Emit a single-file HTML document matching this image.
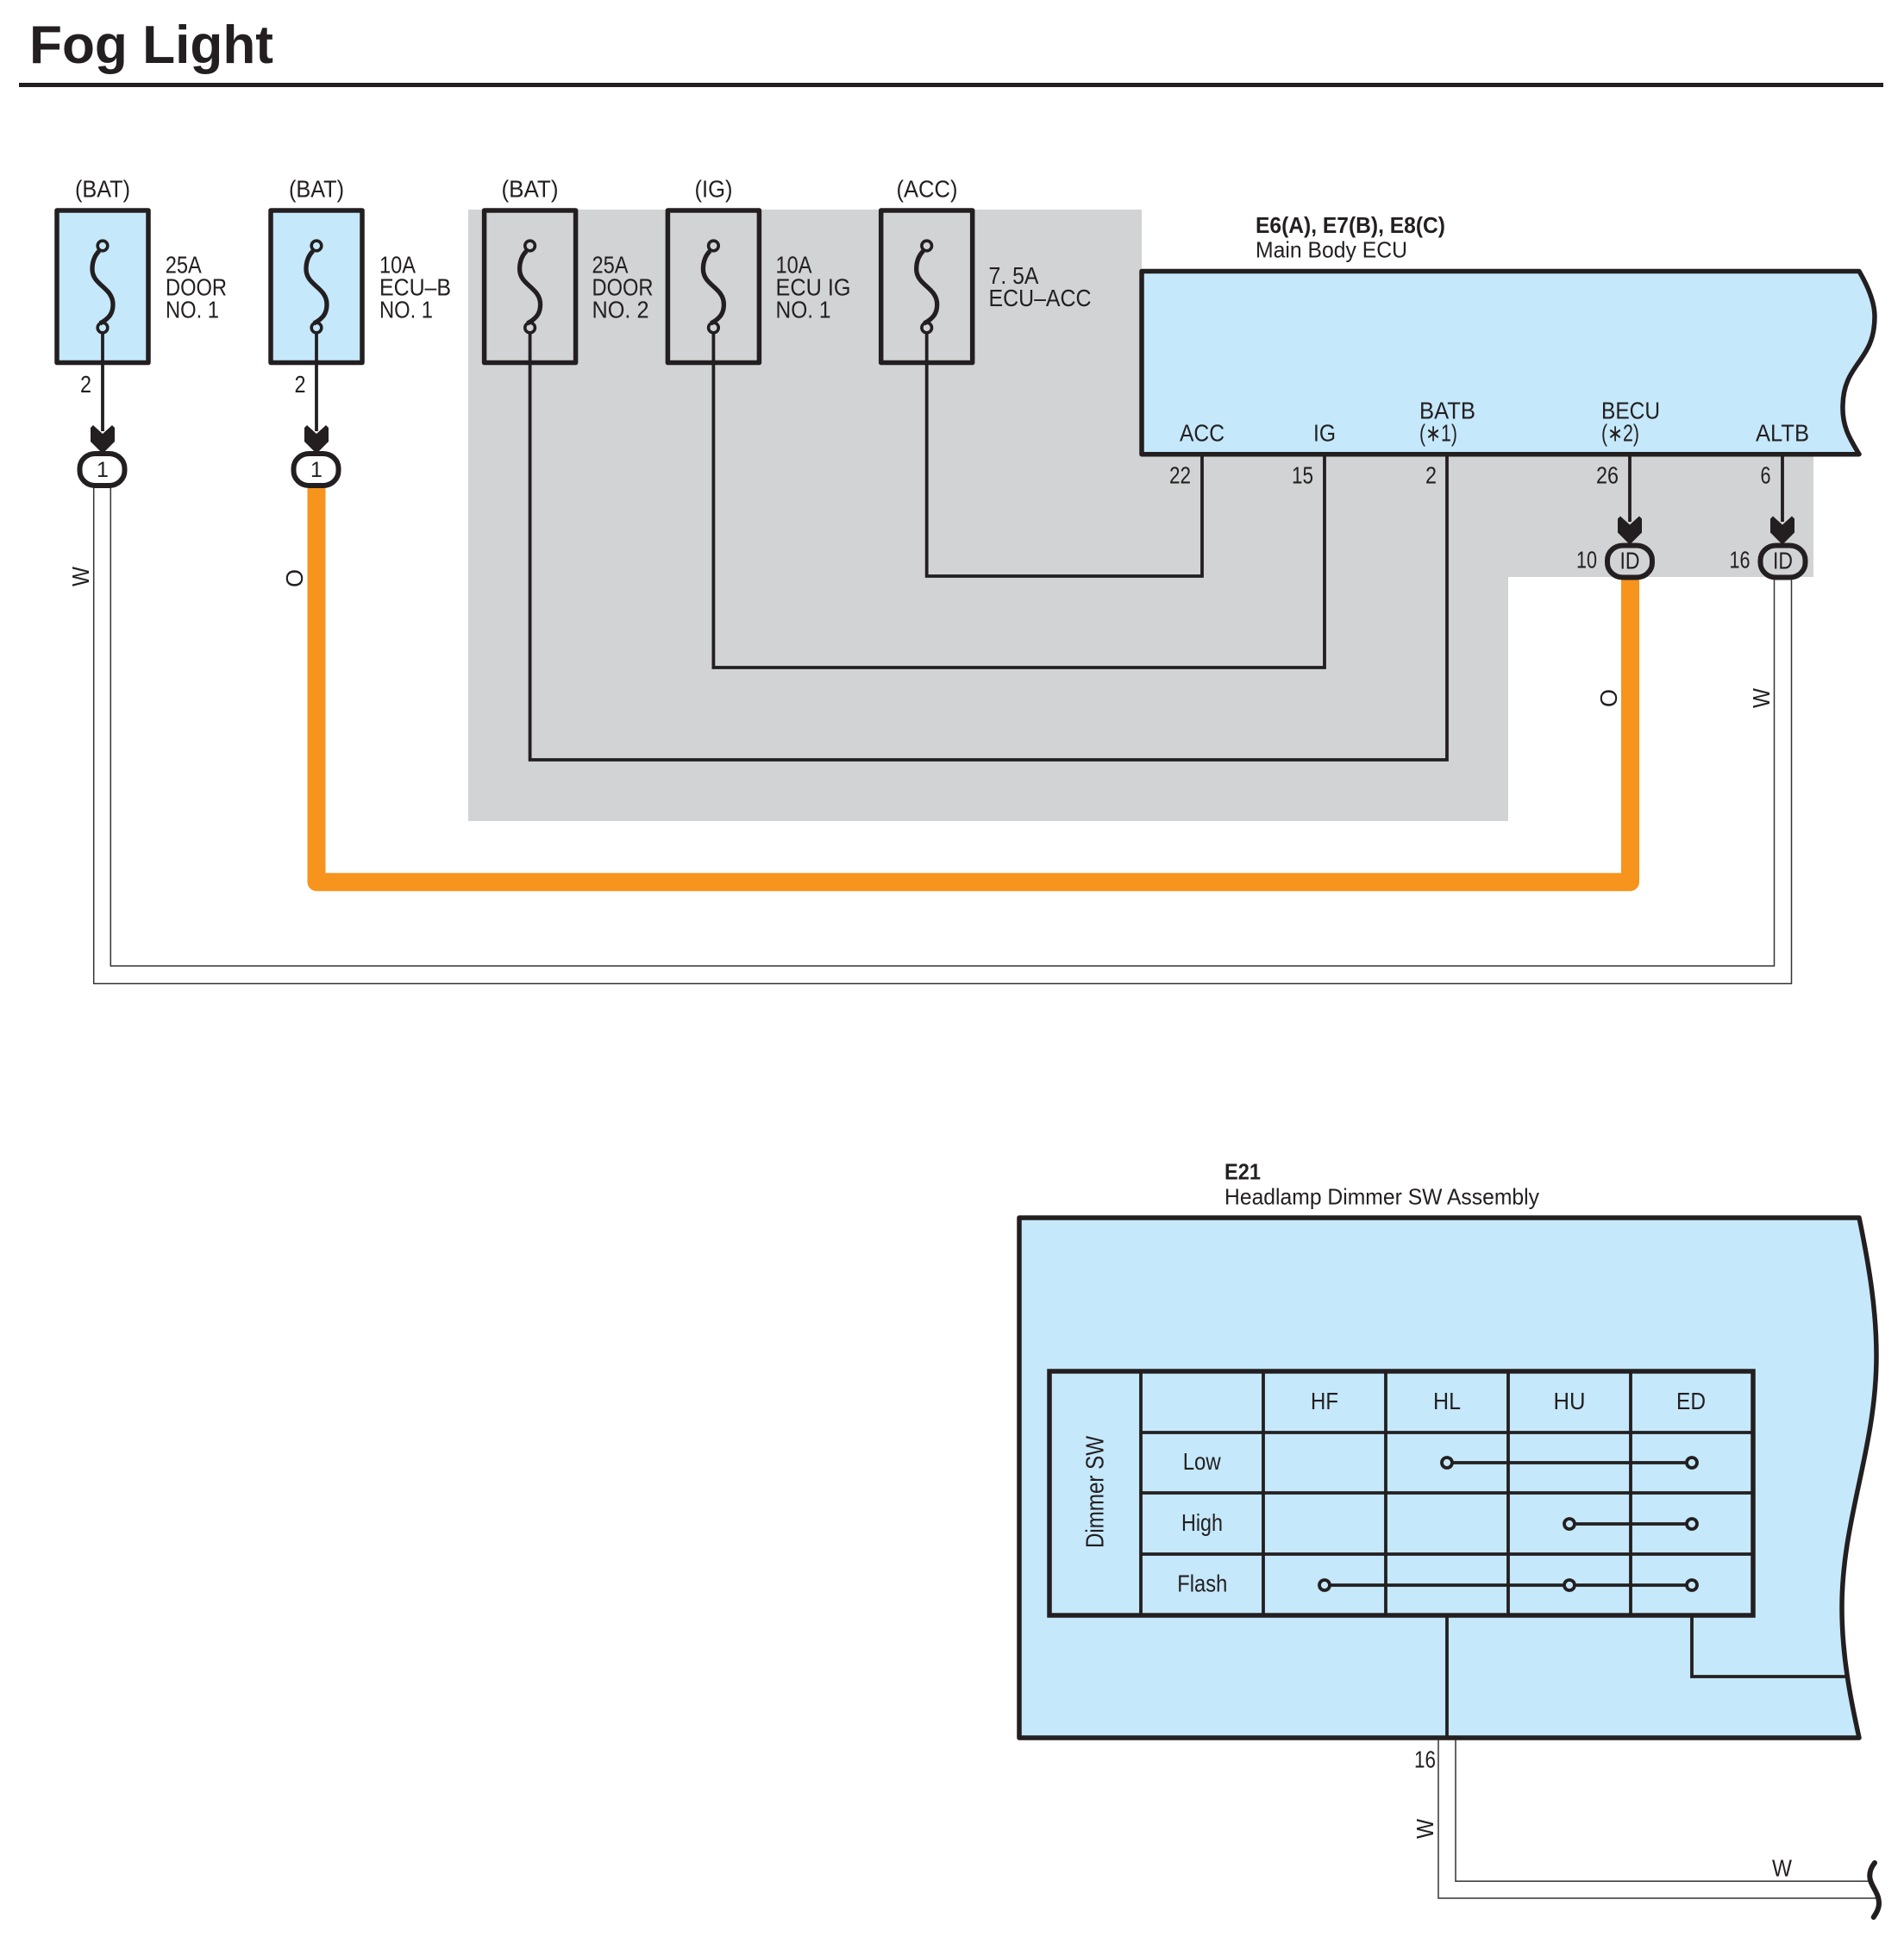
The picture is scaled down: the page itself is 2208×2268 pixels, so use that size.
<!DOCTYPE html>
<html>
<head>
<meta charset="utf-8">
<style>
html,body{margin:0;padding:0;background:#fff}
svg{display:block}
text{font-family:"Liberation Sans",sans-serif;font-size:27.500px;fill:#231f20}
.b{font-weight:bold;font-size:26px}
</style>
</head>
<body>
<svg xmlns="http://www.w3.org/2000/svg" width="2208" height="2268" viewBox="0 0 2208 2268">
<defs>
<g id="fuse" fill="none" stroke="#231f20">
<path d="M-4,291 C-8,295 -12,302 -12,312 C-12,331 12,333 12,353 C12,363 8,369 -3,375" stroke-width="5.300"/>
<circle cx="0" cy="285" r="5.800" stroke-width="3.600"/>
<circle cx="0" cy="380" r="5.800" stroke-width="3.600"/>
</g>
<path id="arrow" d="M0,503 L11,493 L14,496 V512 L0,526 L-14,512 V496 L-11,493 Z" fill="#231f20"/>
<rect id="pill" x="-26" y="-18.500" width="52" height="37" rx="18" ry="17" fill="none" stroke="#231f20" stroke-width="6"/>
</defs>

<!-- Title -->
<text x="34" y="73" class="b" style="font-size:62px" textLength="283" lengthAdjust="spacingAndGlyphs">Fog Light</text>
<rect x="22" y="96" width="2162" height="5" fill="#231f20"/>

<!-- gray area -->
<path d="M543,243 H1324 V527 H2103 V669 H1749 V952 H543 Z" fill="#d1d3d4"/>

<!-- Fuse boxes -->
<g stroke="#231f20" stroke-width="5.500" stroke-linejoin="round">
<rect x="66" y="244" width="106" height="176.500" fill="#c5e8fb"/>
<rect x="314" y="244" width="106" height="176.500" fill="#c5e8fb"/>
<rect x="561.600" y="244" width="106" height="176.500" fill="none"/>
<rect x="774.400" y="244" width="106" height="176.500" fill="none"/>
<rect x="1021.700" y="244" width="106" height="176.500" fill="none"/>
</g>
<use href="#fuse" x="119"/>
<use href="#fuse" x="367"/>
<use href="#fuse" x="614.600"/>
<use href="#fuse" x="827.400"/>
<use href="#fuse" x="1074.700"/>

<!-- ECU -->
<path d="M1324,314.500 H2156 C2168,335 2174,352 2174,367 C2174,420 2138,420 2137,470 C2136,495 2146,510 2156,526.700 H1324 Z" fill="#c5e8fb" stroke="#231f20" stroke-width="5.500" stroke-linejoin="round"/>

<!-- black wires -->
<g fill="none" stroke="#231f20" stroke-width="3.800">
<path d="M614.600,386 V881 H1678 V529"/>
<path d="M827.400,386 V774 H1536 V529"/>
<path d="M1074.700,386 V668 H1394 V529"/>
<path d="M119,386 V500 M367,386 V500 M1890,529 V605 M2067,529 V605"/>
</g>

<!-- orange wire -->
<path d="M367,564 V1022.700 H1890.500 V670" fill="none" stroke="#f7941d" stroke-width="21" stroke-linejoin="round"/>

<!-- white wire -->
<g fill="none" stroke="#333" stroke-width="1.500">
<path d="M108.700,565 V1140.500 H2077.500 V670"/>
<path d="M128.300,565 V1120 H2057.500 V670"/>
</g>

<!-- arrows + connectors -->
<use href="#arrow" x="119"/>
<use href="#arrow" x="367"/>
<use href="#arrow" x="1890" y="105.500"/>
<use href="#arrow" x="2067" y="105.500"/>
<use href="#pill" x="118.500" y="544.500"/>
<use href="#pill" x="366.500" y="544.500"/>
<use href="#pill" x="1890" y="651"/>
<use href="#pill" x="2067.500" y="651"/>
<g text-anchor="middle">
<text x="119" y="553" style="font-size:25px">1</text>
<text x="367" y="553" style="font-size:25px">1</text>
<text x="1890" y="659.500" textLength="23" lengthAdjust="spacingAndGlyphs">ID</text>
<text x="2067.500" y="659.500" textLength="23" lengthAdjust="spacingAndGlyphs">ID</text>
</g>

<!-- source labels -->
<text x="87" y="228.500" textLength="64" lengthAdjust="spacingAndGlyphs">(BAT)</text>
<text x="335" y="228.500" textLength="64" lengthAdjust="spacingAndGlyphs">(BAT)</text>
<text x="581.500" y="228.500" textLength="66" lengthAdjust="spacingAndGlyphs">(BAT)</text>
<text x="805.500" y="228.500" textLength="44" lengthAdjust="spacingAndGlyphs">(IG)</text>
<text x="1039.500" y="228.500" textLength="71" lengthAdjust="spacingAndGlyphs">(ACC)</text>

<!-- fuse labels -->
<text x="191.700" y="316.700" textLength="42" lengthAdjust="spacingAndGlyphs">25A</text>
<text x="192" y="342.700" textLength="71" lengthAdjust="spacingAndGlyphs">DOOR</text>
<text x="192" y="368.700" textLength="62" lengthAdjust="spacingAndGlyphs">NO. 1</text>
<text x="440" y="316.700" textLength="42" lengthAdjust="spacingAndGlyphs">10A</text>
<text x="440" y="342.700" textLength="83" lengthAdjust="spacingAndGlyphs">ECU–B</text>
<text x="440" y="368.700" textLength="62" lengthAdjust="spacingAndGlyphs">NO. 1</text>
<text x="686.500" y="316.700" textLength="42" lengthAdjust="spacingAndGlyphs">25A</text>
<text x="686.500" y="342.700" textLength="71" lengthAdjust="spacingAndGlyphs">DOOR</text>
<text x="686.500" y="368.700" textLength="66" lengthAdjust="spacingAndGlyphs">NO. 2</text>
<text x="899.500" y="316.700" textLength="42" lengthAdjust="spacingAndGlyphs">10A</text>
<text x="899.500" y="342.700" textLength="87" lengthAdjust="spacingAndGlyphs">ECU IG</text>
<text x="899.500" y="368.700" textLength="64" lengthAdjust="spacingAndGlyphs">NO. 1</text>
<text x="1146.500" y="329" textLength="58" lengthAdjust="spacingAndGlyphs">7. 5A</text>
<text x="1146.500" y="355" textLength="119" lengthAdjust="spacingAndGlyphs">ECU–ACC</text>

<!-- pin numbers -->
<text x="93" y="455" textLength="13" lengthAdjust="spacingAndGlyphs">2</text>
<text x="341.500" y="455" textLength="13" lengthAdjust="spacingAndGlyphs">2</text>
<text x="1356" y="560.700" textLength="25" lengthAdjust="spacingAndGlyphs">22</text>
<text x="1498" y="560.700" textLength="25" lengthAdjust="spacingAndGlyphs">15</text>
<text x="1653" y="560.700" textLength="13" lengthAdjust="spacingAndGlyphs">2</text>
<text x="1851" y="560.700" textLength="26" lengthAdjust="spacingAndGlyphs">26</text>
<text x="2041.500" y="560.700" textLength="12" lengthAdjust="spacingAndGlyphs">6</text>
<text x="1828" y="658.700" textLength="24" lengthAdjust="spacingAndGlyphs">10</text>
<text x="2005.500" y="658.700" textLength="24" lengthAdjust="spacingAndGlyphs">16</text>

<!-- wire colours -->
<text transform="translate(103,680) rotate(-90)" textLength="23" lengthAdjust="spacingAndGlyphs">W</text>
<text transform="translate(351,681) rotate(-90)" textLength="21" lengthAdjust="spacingAndGlyphs">O</text>
<text transform="translate(1875,820) rotate(-90)" textLength="21" lengthAdjust="spacingAndGlyphs">O</text>
<text transform="translate(2052,821) rotate(-90)" textLength="23" lengthAdjust="spacingAndGlyphs">W</text>

<!-- ECU labels -->
<text x="1456" y="270" class="b" textLength="220" lengthAdjust="spacingAndGlyphs">E6(A), E7(B), E8(C)</text>
<text x="1456" y="298.300" style="font-size:26px" textLength="176" lengthAdjust="spacingAndGlyphs">Main Body ECU</text>
<text x="1368" y="511.500" textLength="52" lengthAdjust="spacingAndGlyphs">ACC</text>
<text x="1523" y="511.500" textLength="26" lengthAdjust="spacingAndGlyphs">IG</text>
<text x="1646" y="485.500" textLength="65" lengthAdjust="spacingAndGlyphs">BATB</text>
<text x="1646" y="511.500" textLength="44" lengthAdjust="spacingAndGlyphs">(∗1)</text>
<text x="1857" y="485.500" textLength="68" lengthAdjust="spacingAndGlyphs">BECU</text>
<text x="1857" y="511.500" textLength="44" lengthAdjust="spacingAndGlyphs">(∗2)</text>
<text x="2036" y="511.500" textLength="62" lengthAdjust="spacingAndGlyphs">ALTB</text>

<!-- E21 -->
<text x="1420" y="1367.500" class="b" textLength="42" lengthAdjust="spacingAndGlyphs">E21</text>
<text x="1420" y="1396.500" style="font-size:26px" textLength="365" lengthAdjust="spacingAndGlyphs">Headlamp Dimmer SW Assembly</text>
<path d="M1182,1412 H2156 C2168,1470 2176,1520 2176,1572 C2176,1680 2136,1760 2136,1864 C2136,1920 2146,1970 2156,2015 H1182 Z" fill="#c5e8fb" stroke="#231f20" stroke-width="5.500" stroke-linejoin="round"/>

<!-- table -->
<g fill="none" stroke="#231f20" stroke-width="3.800">
<path d="M1323,1590 V1873 M1465,1590 V1873 M1607,1590 V1873 M1749,1590 V1873 M1891,1590 V1873"/>
<path d="M1323,1661 H2033 M1323,1731 H2033 M1323,1802 H2033"/>
<path d="M1678,1696 H1962 M1820,1767 H1962 M1536,1838 H1962"/>
<path d="M1678,1873 V2015 M1962,1873 V1944 H2142"/>
</g>
<rect x="1217" y="1590" width="816" height="283" fill="none" stroke="#231f20" stroke-width="5.500"/>
<g fill="#c5e8fb" stroke="#231f20" stroke-width="3.800">
<circle cx="1678" cy="1696" r="6"/>
<circle cx="1962" cy="1696" r="6"/>
<circle cx="1820" cy="1767" r="6"/>
<circle cx="1962" cy="1767" r="6"/>
<circle cx="1536" cy="1838" r="6"/>
<circle cx="1820" cy="1838" r="6"/>
<circle cx="1962" cy="1838" r="6"/>
</g>
<text x="1520" y="1634" textLength="32" lengthAdjust="spacingAndGlyphs">HF</text>
<text x="1662" y="1634" textLength="32" lengthAdjust="spacingAndGlyphs">HL</text>
<text x="1801.500" y="1634" textLength="37" lengthAdjust="spacingAndGlyphs">HU</text>
<text x="1944" y="1634" textLength="34" lengthAdjust="spacingAndGlyphs">ED</text>
<text x="1371.700" y="1704" textLength="44" lengthAdjust="spacingAndGlyphs">Low</text>
<text x="1370" y="1775" textLength="48" lengthAdjust="spacingAndGlyphs">High</text>
<text x="1365.300" y="1845.700" textLength="58" lengthAdjust="spacingAndGlyphs">Flash</text>
<text transform="translate(1279.500,1795) rotate(-90)" style="font-size:29px" textLength="130" lengthAdjust="spacingAndGlyphs">Dimmer SW</text>

<!-- lower W wire -->
<g fill="none" stroke="#333" stroke-width="1.500">
<path d="M1668,2017 V2201 H2176"/>
<path d="M1688,2017 V2181.300 H2167"/>
</g>
<path d="M2174,2160 C2170,2165 2168,2170 2168.300,2176 C2168.500,2186 2179,2194 2179,2207 C2179,2213 2176,2218 2172.700,2223" fill="none" stroke="#231f20" stroke-width="6" stroke-linecap="round"/>
<text x="1640" y="2049.500" textLength="25" lengthAdjust="spacingAndGlyphs">16</text>
<text transform="translate(1662,2132) rotate(-90)" textLength="23" lengthAdjust="spacingAndGlyphs">W</text>
<text x="2055" y="2175.700" textLength="23" lengthAdjust="spacingAndGlyphs">W</text>
</svg>
</body>
</html>
